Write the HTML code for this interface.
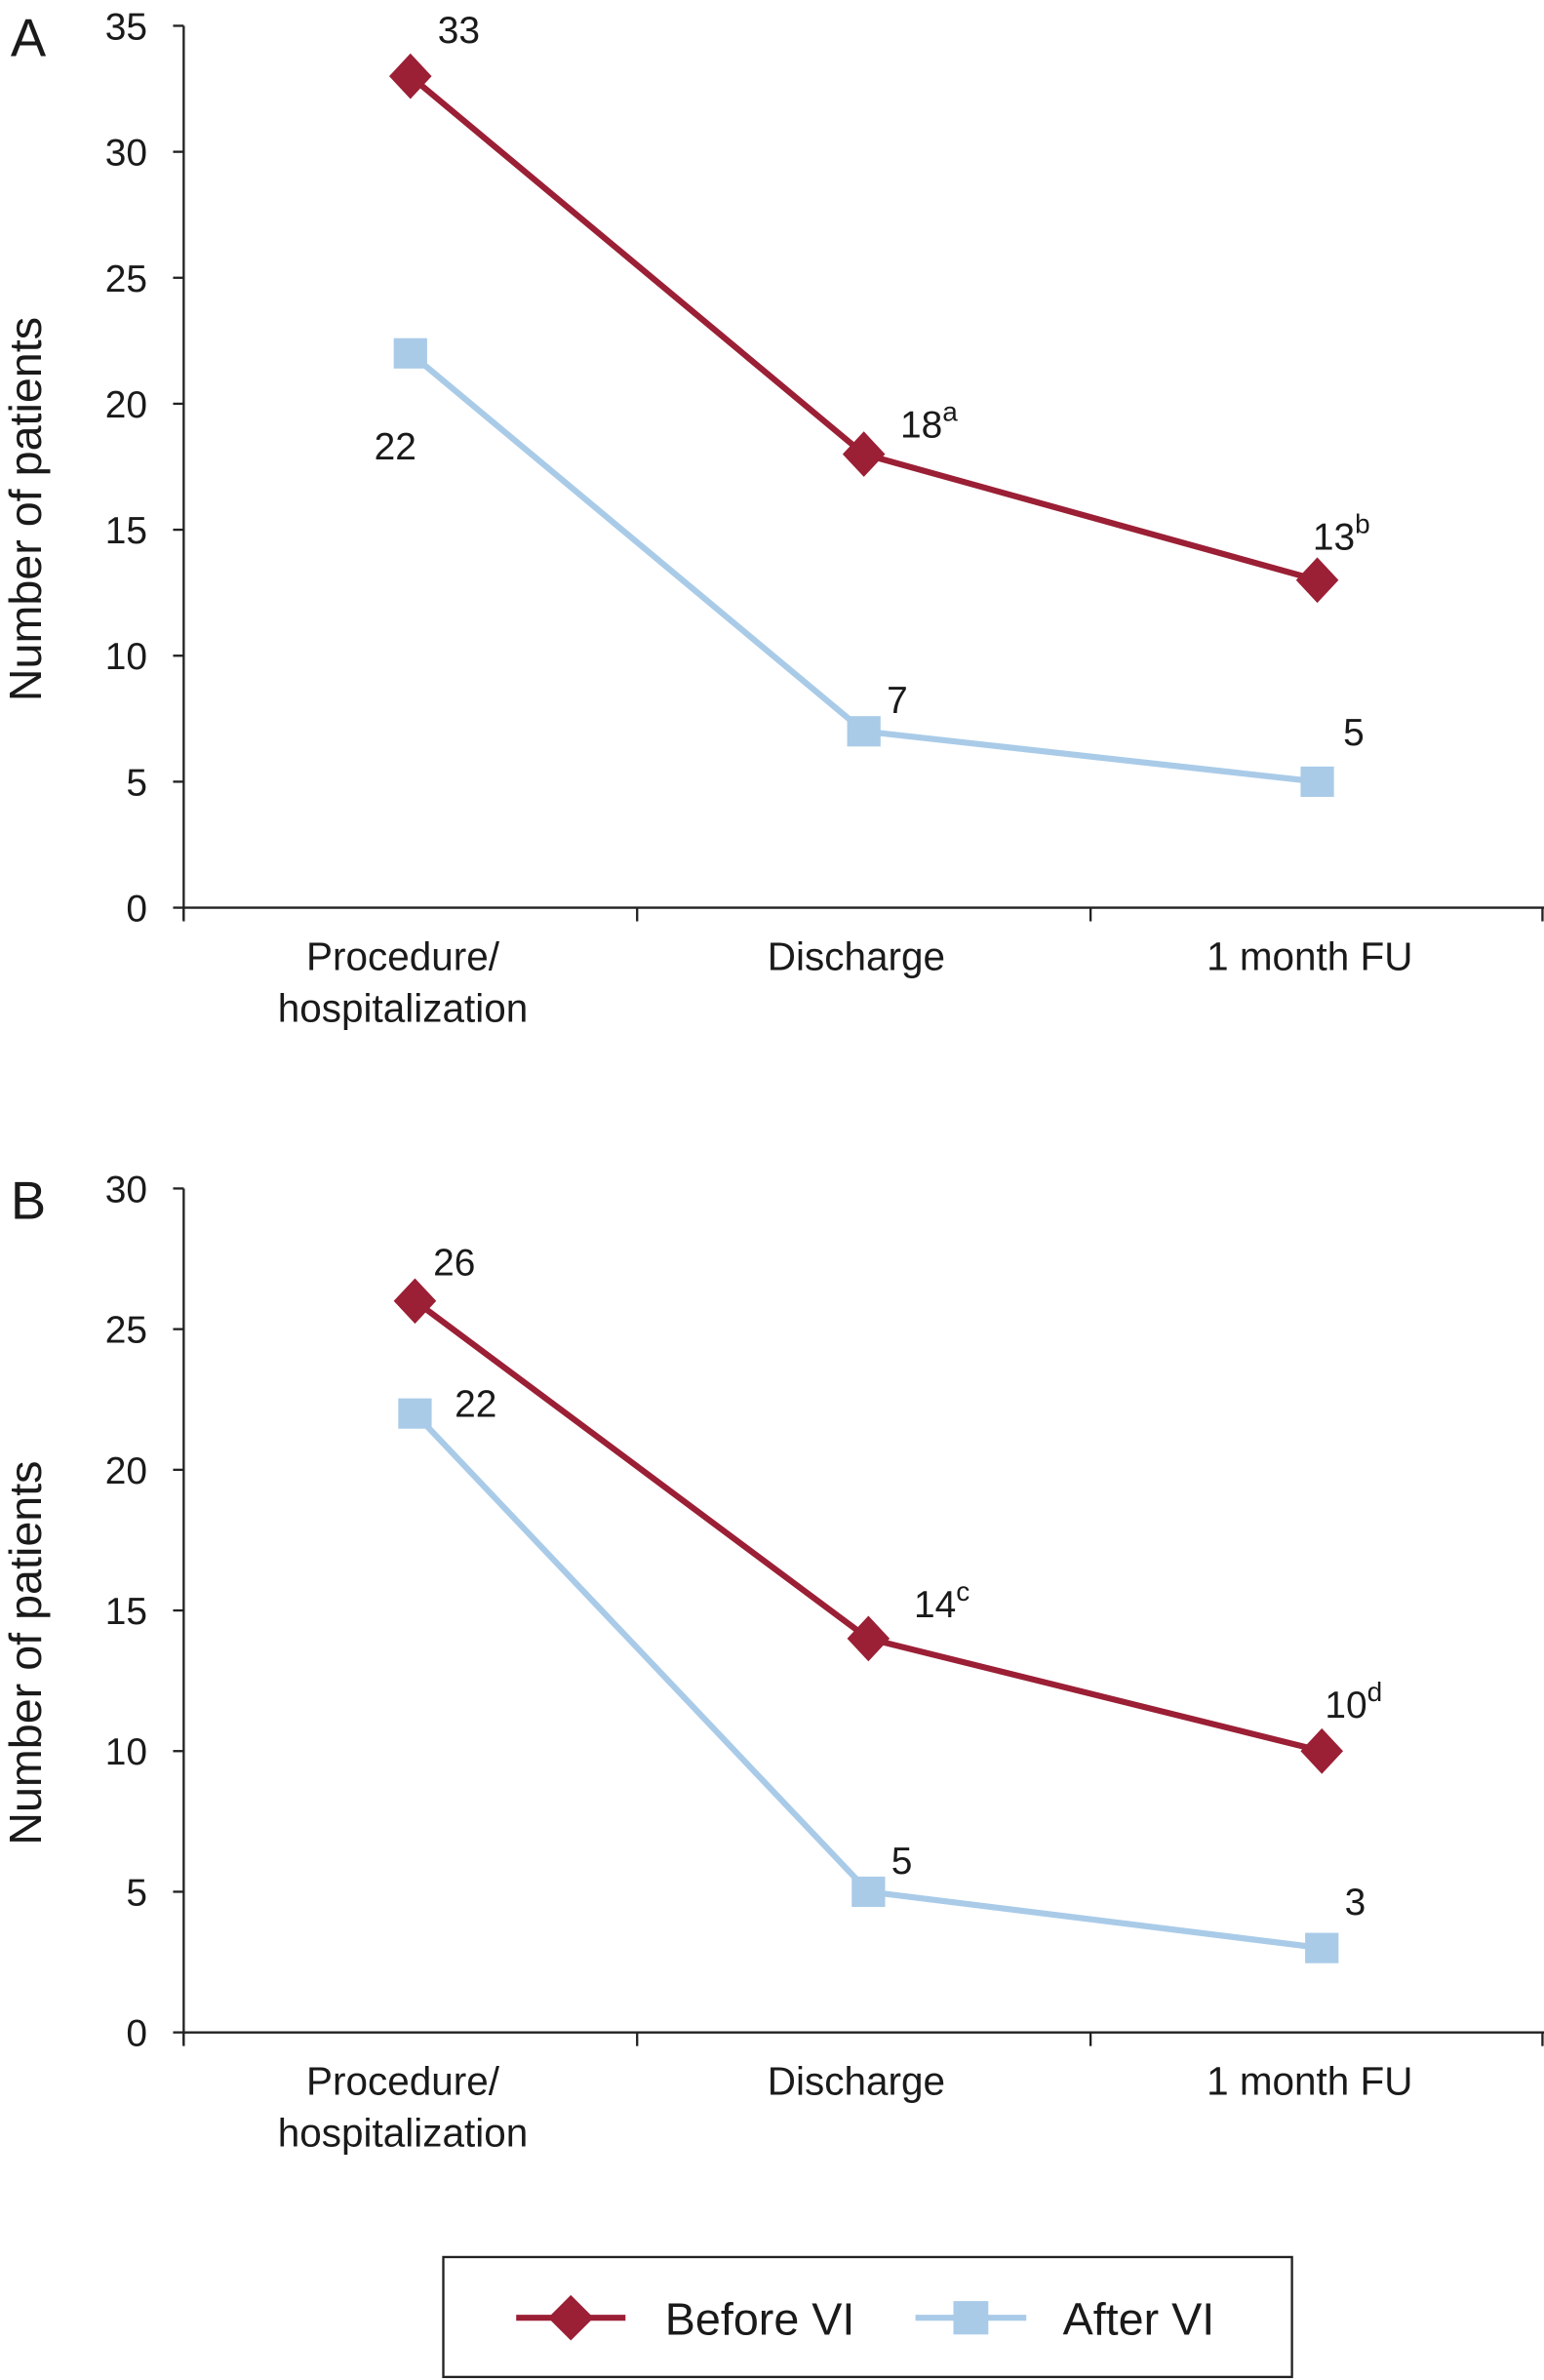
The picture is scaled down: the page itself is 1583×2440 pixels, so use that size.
<!DOCTYPE html>
<html><head><meta charset="utf-8"><style>
html,body{margin:0;padding:0;background:#fff;}
svg{display:block;}
text{font-family:"Liberation Sans",sans-serif;fill:#1a1a1a;}
</style></head><body>
<svg id="chart" width="1583" height="2440" viewBox="0 0 1017 1568" preserveAspectRatio="none" xmlns="http://www.w3.org/2000/svg"></svg>
<script>
const categories = ["Procedure/|hospitalization", "Discharge", "1 month FU"];
const beforeA = [33, 18, 13];
const afterA = [22, 7, 5];
const beforeB = [26, 14, 10];
const afterB = [22, 5, 3];
const supA = ["", "a", "b"];
const supB = ["", "c", "d"];
const ticksA = [0,5,10,15,20,25,30,35];
const ticksB = [0,5,10,15,20,25,30];

const NS = "http://www.w3.org/2000/svg";
const svg = document.getElementById("chart");
function mk(tag, attrs, parent){
  const e = document.createElementNS(NS, tag);
  for (const k in attrs) e.setAttribute(k, attrs[k]);
  (parent||svg).appendChild(e);
  return e;
}
const RED = "#9b1f35", BLUE = "#a9cbe8";

function panel(cfg){
  const g = mk("g", {});
  
  
  const x0 = 121, x1 = 1017;
  const yS = v => cfg.y0 - (v / cfg.max) * (cfg.y0 - cfg.yTop);
  const band = (x1 - x0) / categories.length;
  const xS = i => x0 + band * (i + 0.5) + cfg.xOff;
  const ya = mk("line", {x1:x0, y1:cfg.yTop, x2:x0, y2:cfg.y0+8, stroke:"#222", "stroke-width":1.5}, g);
  
  
  const xa = mk("line", {x1:x0, y1:cfg.y0, x2:x1, y2:cfg.y0, stroke:"#222", "stroke-width":1.5}, g);
  
  
  cfg.ticks.forEach(t => {
    const y = yS(t);
    mk("line", {x1:x0-7, y1:y, x2:x0, y2:y, stroke:"#222", "stroke-width":1.5}, g);
    const tx = mk("text", {x:97, y:y+9, "font-size":25, "text-anchor":"end"}, g);
    tx.textContent = t;
    
    
  });
  for (let i=0;i<=categories.length;i++){
    const x = x0 + band*i - (i===categories.length?1:0);
    mk("line", {x1:x, y1:cfg.y0, x2:x, y2:cfg.y0+9, stroke:"#222", "stroke-width":1.5}, g);
  }
  categories.forEach((c,i) => {
    c.split("|").forEach((ln,j) => {
      const tx = mk("text", {x:x0 + band*(i+0.5)-5, y:cfg.y0+41+j*34, "font-size":26, "text-anchor":"middle"}, g);
      tx.textContent = ln;
      
      
    });
  });
  const yt = mk("text", {x:0, y:0, "font-size":30, "text-anchor":"middle", transform:`translate(27,${(cfg.y0+cfg.yTop)/2+28}) rotate(-90)`}, g);
  yt.textContent = "Number of patients";
  
  
  const pl = mk("text", {x:7, y:cfg.yTop+20, "font-size":35}, g);
  pl.textContent = cfg.letter;
  
  
  const after = mk("polyline", {points: cfg.after.map((v,i)=>`${xS(i)},${yS(v)}`).join(" "), fill:"none", stroke:BLUE, "stroke-width":4}, g);
  
  
  const before = mk("polyline", {points: cfg.before.map((v,i)=>`${xS(i)},${yS(v)}`).join(" "), fill:"none", stroke:RED, "stroke-width":4}, g);
  
  
  cfg.after.forEach((v,i) => {
    const r = mk("rect", {x:xS(i)-11, y:yS(v)-10, width:22, height:20, fill:BLUE}, g);
    
    
    const off = cfg.afterOff[i];
    const t = mk("text", {x:xS(i)+off[0], y:yS(v)+off[1], "font-size":25, "text-anchor":"middle"}, g);
    t.textContent = v;
    
    
  });
  cfg.before.forEach((v,i) => {
    const x = xS(i), y = yS(v);
    const d = mk("polygon", {points:`${x},${y-15} ${x+14},${y} ${x},${y+15} ${x-14},${y}`, fill:RED}, g);
    
    
    const off = cfg.beforeOff[i];
    const t = mk("text", {x:x+off[0], y:y+off[1], "font-size":25}, g);
    t.textContent = v;
    if (cfg.sup[i]) {
      const s = mk("tspan", {dy:-11, "font-size":18}, t);
      s.textContent = cfg.sup[i];
    }
    
    
  });
}

panel({name:"panel-a", letter:"A", y0:598, yTop:17, max:35, ticks:ticksA, before:beforeA, after:afterA, sup:supA, xOff:0,
  beforeOff:[[18,-22],[24,-11],[-3,-20]],
  afterOff:[[-10,70],[22,-12],[24,-24]]});
panel({name:"panel-b", letter:"B", y0:1339, yTop:783, max:30, ticks:ticksB, before:beforeB, after:afterB, sup:supB, xOff:3,
  beforeOff:[[12,-17],[30,-14],[2,-22]],
  afterOff:[[40,2],[22,-12],[22,-22]]});

const lg = mk("g", {});


mk("rect", {x:292, y:1487, width:559, height:79, fill:"#fff", stroke:"#222", "stroke-width":1.5}, lg);
mk("line", {x1:340, y1:1527, x2:412, y2:1527, stroke:RED, "stroke-width":4}, lg);
mk("polygon", {points:"376,1512 391,1527 376,1542 361,1527", fill:RED}, lg);
const l1 = mk("text", {x:438, y:1538, "font-size":30}, lg);
l1.textContent = "Before VI";


mk("line", {x1:603, y1:1527, x2:676, y2:1527, stroke:BLUE, "stroke-width":4}, lg);
mk("rect", {x:628, y:1516, width:23, height:22, fill:BLUE}, lg);
const l2 = mk("text", {x:700, y:1538, "font-size":30}, lg);
l2.textContent = "After VI";


</script>
</body></html>
